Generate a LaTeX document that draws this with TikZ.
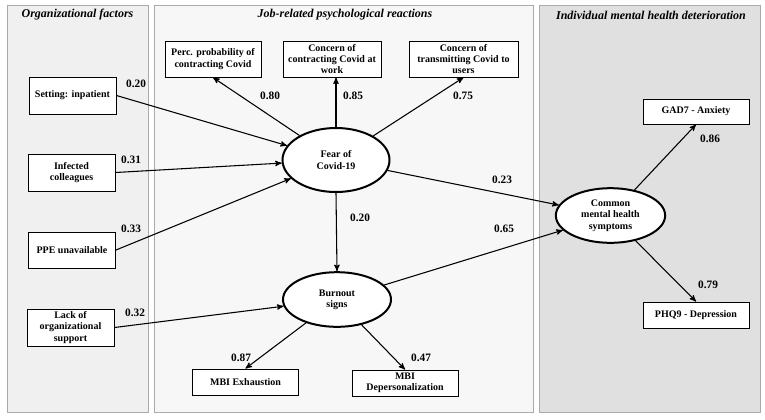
\documentclass[tikz,border=0pt]{standalone}
\usepackage{fontspec}
\setmainfont{Liberation Serif}
\usetikzlibrary{positioning, calc}
\usetikzlibrary{arrows, shapes.geometric}

\begin{document}
\begin{tikzpicture}[x=0.75pt, y=-0.75pt, font=\bfseries\fontsize{7.5}{8.5}\selectfont, align=center, >=stealth', line width=0.75pt]
        % Define colors
        \definecolor{panelleft}{RGB}{240,240,240}
        \definecolor{panelmid}{RGB}{247,247,247}
        \definecolor{panelright}{RGB}{224,224,224}
        \definecolor{panelline}{RGB}{170,170,170}

        \tikzset{
            panel/.style={draw=panelline, line width=0.6pt, minimum height=305.25pt, inner sep=0pt},
            paneltitle/.style={font=\bfseries\itshape\fontsize{9}{10}\selectfont},
            item/.style={draw, fill=white, rectangle, line width=0.75pt, inner sep=1pt},
            factor/.style={draw, fill=white, ellipse, line width=1.5pt, inner sep=0pt},
            coef/.style={inner sep=0pt, font=\bfseries\fontsize{8.5}{10}\selectfont},
            path/.style={->, line width=0.8pt}
        }

        \useasboundingbox (0,0) rectangle (765,419);

        % Panels
        \node[panel, fill=panelleft, minimum width=105.75pt] (orgpanel) at (77.5,208.5) {};
        \node[panel, fill=panelmid, minimum width=284.25pt] (jobpanel) at (343.5,208.5) {};
        \node[panel, fill=panelright, minimum width=165.75pt] (mhpanel) at (649.5,208.5) {};
        \node[paneltitle] (orgtitle) at (77.5,15) {Organizational factors};
        \node[paneltitle] (jobtitle) at (345,15) {Job-related psychological reactions};
        \node[paneltitle] (mhtitle) at (651,15) {Individual mental health deterioration};

        % Nodes
        \node[item, minimum width=65.25pt, minimum height=27.75pt] (setting) at (72.5,95.5) {Setting: inpatient};
        \node[item, minimum width=65.25pt, minimum height=27.75pt] (infected) at (71.5,172.5) {Infected\\colleagues};
        \node[item, minimum width=65.25pt, minimum height=27pt] (ppe) at (72,250) {PPE unavailable};
        \node[item, minimum width=65.25pt, minimum height=27.75pt] (lack) at (70.5,327.5) {Lack of\\organizational\\support};

        \node[item, minimum width=72pt, minimum height=27pt] (perc) at (213,59) {Perc. probability of\\contracting Covid};
        \node[item, minimum width=73.5pt, minimum height=27pt] (work) at (332,59) {Concern of\\contracting Covid at\\work};
        \node[item, minimum width=81.75pt, minimum height=27pt] (trans) at (463.5,59) {Concern of\\transmitting Covid to\\users};

        \node[factor, minimum width=80.25pt, minimum height=48pt] (fear) at (336,160) {Fear of\\Covid-19};
        \node[factor, minimum width=81pt, minimum height=41pt] (burnout) at (337,299.5) {Burnout\\signs};
        \node[factor, minimum width=82pt, minimum height=41pt] (common) at (610.5,215.5) {Common\\mental health\\symptoms};

        \node[item, minimum width=80pt, minimum height=19.5pt] (exhaust) at (245.5,382) {MBI Exhaustion};
        \node[item, minimum width=79.5pt, minimum height=19.5pt] (depers) at (405,383) {MBI\\Depersonalization};
        \node[item, minimum width=79.5pt, minimum height=18.75pt] (gad) at (696,111.5) {GAD7 - Anxiety};
        \node[item, minimum width=79.5pt, minimum height=19.5pt] (phq) at (696,315) {PHQ9 - Depression};

        % Edges
        \draw[path] (setting.east) -- (fear);
        \draw[path] (infected.east) -- (fear);
        \draw[path] (ppe.east) -- (fear);
        \draw[path] (lack.east) -- (burnout);
        \draw[path] (fear) -- (perc.south);
        \draw[path] (fear.north) -- (fear.north |- work.south);
        \draw[path] (fear) -- (trans.south);
        \draw[path] (fear.south) -- (burnout.north);
        \draw[path] (fear) -- (common);
        \draw[path] (burnout) -- (common);
        \draw[path] (burnout) -- (exhaust.north);
        \draw[path] (burnout) -- (depers.north);
        \draw[path] (common) -- (gad.south);
        \draw[path] (common) -- (phq.north);

        % Coefficients
        \node[coef] (csetting) at (136,84) {0.20};
        \node[coef] (cinfected) at (131,160) {0.31};
        \node[coef] (cppe) at (131,229) {0.33};
        \node[coef] (clack) at (135,313) {0.32};
        \node[coef] (cperc) at (270,96) {0.80};
        \node[coef] (cwork) at (353,96) {0.85};
        \node[coef] (ctrans) at (463,96) {0.75};
        \node[coef] (cburnout) at (360,218) {0.20};
        \node[coef] (cfear) at (502,180) {0.23};
        \node[coef] (ccommon) at (504,229) {0.65};
        \node[coef] (cexhaust) at (241,358) {0.87};
        \node[coef] (cdepers) at (421,358) {0.47};
        \node[coef] (cgad) at (710,139) {0.86};
        \node[coef] (cphq) at (708,285) {0.79};
\end{tikzpicture}
\end{document}
